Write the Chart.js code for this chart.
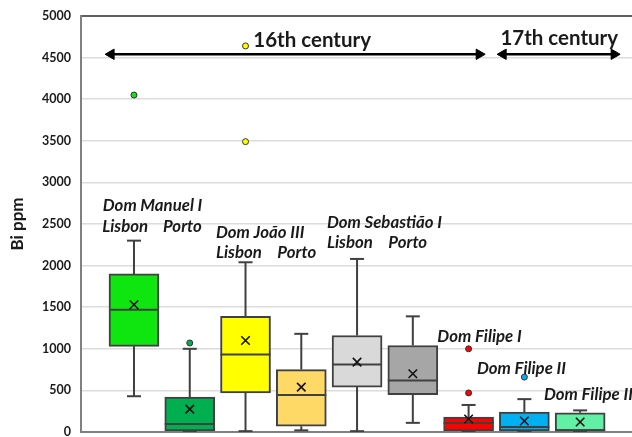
<!DOCTYPE html>
<html>
<head>
<meta charset="utf-8">
<script src="https://cdn.jsdelivr.net/npm/chart.js@4"></script>
<style>
html,body{margin:0;padding:0;background:#fff;}
</style>
</head>
<body>
<canvas id="c" width="632" height="437"></canvas>
<script>
// ---- data ----
const categories = ['Dom Manuel I Lisbon','Dom Manuel I Porto','Dom João III Lisbon','Dom João III Porto','Dom Sebastião I Lisbon','Dom Sebastião I Porto','Dom Filipe I','Dom Filipe II','Dom Filipe III'];
const whiskerLow  = [430, 0, 10, 20, 10, 110, 10, 10, 10];
const q1          = [1030, 12, 470, 70, 540, 450, 12, 12, 12];
const median      = [1470, 95, 930, 445, 810, 620, 108, 60, 20];
const q3          = [1900, 420, 1390, 750, 1160, 1040, 180, 240, 230];
const whiskerHigh = [2300, 1000, 2040, 1180, 2080, 1390, 325, 395, 260];
const mean        = [1530, 275, 1100, 540, 840, 700, 156, 132, 120];
const outliers    = [[4050], [1070], [3490, 4640], [], [], [], [470, 1000], [660], []];
const yTicks = [0, 500, 1000, 1500, 2000, 2500, 3000, 3500, 4000, 4500, 5000];

// ---- styles ----
const boxColors = ['#0fe60f','#00b050','#ffff00','#ffd966','#d9d9d9','#a6a6a6','#ff0000','#00b0f0','#62f0a6'];
const lineCol = '#404040';

const xs = categories.map((c,i)=>i+1);

const boxData = xs.map((x,i)=>({x:x, y:[q1[i], q3[i]]}));
const whiskerData = [];
xs.forEach((x,i)=>{
  whiskerData.push({x:x,y:whiskerLow[i]},{x:x,y:q1[i]},{x:x,y:null},{x:x,y:q3[i]},{x:x,y:whiskerHigh[i]},{x:x,y:null});
});
const capData = [];
xs.forEach((x,i)=>{capData.push({x:x,y:whiskerLow[i]},{x:x,y:whiskerHigh[i]});});
const medianData = xs.map((x,i)=>({x:x,y:median[i]}));
const meanData = xs.map((x,i)=>({x:x,y:mean[i]}));
const outData = [], outCols = [];
outliers.forEach((arr,i)=>arr.forEach(v=>{outData.push({x:xs[i],y:v}); outCols.push(boxColors[i]);}));

// annotations (data coordinates)
const arrows = [
  {from:0.59, to:7.19, y:4540},
  {from:7.62, to:9.61, y:4540}
];
const texts = [
  {t:'16th century', x:3.14, y:4705, big:true},
  {t:'17th century', x:7.57, y:4730, big:true},
  {t:'Dom Manuel I', x:0.44, y:2725},
  {t:'Lisbon', x:0.43, y:2473},
  {t:'Porto', x:1.52, y:2473},
  {t:'Dom João III', x:2.47, y:2400},
  {t:'Lisbon', x:2.47, y:2160},
  {t:'Porto', x:3.57, y:2160},
  {t:'Dom Sebastião I', x:4.46, y:2520},
  {t:'Lisbon', x:4.46, y:2280},
  {t:'Porto', x:5.56, y:2280},
  {t:'Dom Filipe I', x:6.44, y:1152},
  {t:'Dom Filipe II', x:7.15, y:768},
  {t:'Dom Filipe III', x:8.35, y:444}
];

const arrowSets = arrows.map(a=>({
  type:'line',
  data:[{x:a.from,y:a.y},{x:a.to,y:a.y}],
  borderColor:'#000', borderWidth:2.5,
  pointStyle:'triangle', pointRadius:6, pointRotation:[-90,90],
  pointBackgroundColor:'#000', pointBorderColor:'#000', pointBorderWidth:1,
  order:0
}));

const textPlugin = {
  id:'texts',
  afterDatasetsDraw(chart){
    const {ctx, scales:{x, y}} = chart;
    ctx.save();
    ctx.textBaseline = 'middle';
    ctx.textAlign = 'left';
    texts.forEach(o=>{
      ctx.fillStyle = '#1a1a1a';
      ctx.font = o.big ? 'bold 20.5px Lato' : 'italic bold 16.8px Lato';
      ctx.fillText(o.t, x.getPixelForValue(o.x), y.getPixelForValue(o.y));
    });
    ctx.restore();
  }
};

new Chart(document.getElementById('c'), {
  type:'bar',
  data:{
    datasets:[
      {type:'line', data:whiskerData, borderColor:lineCol, borderWidth:2, pointRadius:0, spanGaps:false, order:5},
      {type:'bar', data:boxData, backgroundColor:boxColors, borderColor:lineCol, borderWidth:2, borderSkipped:false, barThickness:50, order:4},
      {type:'scatter', data:capData, pointStyle:'line', pointRadius:7, borderColor:lineCol, borderWidth:2, order:3},
      {type:'scatter', data:medianData, pointStyle:'line', pointRadius:25, borderColor:lineCol, borderWidth:2, order:2},
      {type:'scatter', data:meanData, pointStyle:'crossRot', pointRadius:6, borderColor:'#111', borderWidth:1.6, order:1},
      {type:'scatter', data:outData, pointStyle:'circle', pointRadius:3, backgroundColor:outCols, borderColor:'#333', borderWidth:1, order:1},
      ...arrowSets
    ]
  },
  options:{
    responsive:false,
    animation:false,
    events:[],
    layout:{autoPadding:false, padding:{top:16, right:0, left:0, bottom:0}},
    plugins:{legend:{display:false}, tooltip:{enabled:false}},
    scales:{
      x:{
        type:'linear', min:0.05, max:9.93, offset:false,
        grid:{display:false},
        ticks:{display:false},
        border:{display:true, color:'#808080', width:2},
        afterFit(s){ s.height = 5; }
      },
      y:{
        type:'linear', min:0, max:5000,
        afterBuildTicks(s){ s.ticks = yTicks.map(v=>({value:v})); },
        ticks:{font:{family:'Lato', weight:'bold', size:12.5}, color:'#1a1a1a', padding:10, callback:(v)=>String(v)},
        grid:{
          drawTicks:false,
          color:(c)=> c.tick && c.tick.value===5000 ? '#606060' : '#dcdcdc',
          lineWidth:(c)=> c.tick && c.tick.value===5000 ? 2 : 1.5
        },
        border:{display:true, color:'#808080', width:2},
        title:{display:true, text:'Bi ppm', font:{family:'Lato', weight:'bold', size:17}, color:'#1a1a1a', padding:{top:7,bottom:0}},
        afterFit(s){ s.width = 81; s.paddingTop = 0; s.paddingBottom = 0; }
      }
    }
  },
  plugins:[textPlugin]
});
</script>
</body>
</html>
